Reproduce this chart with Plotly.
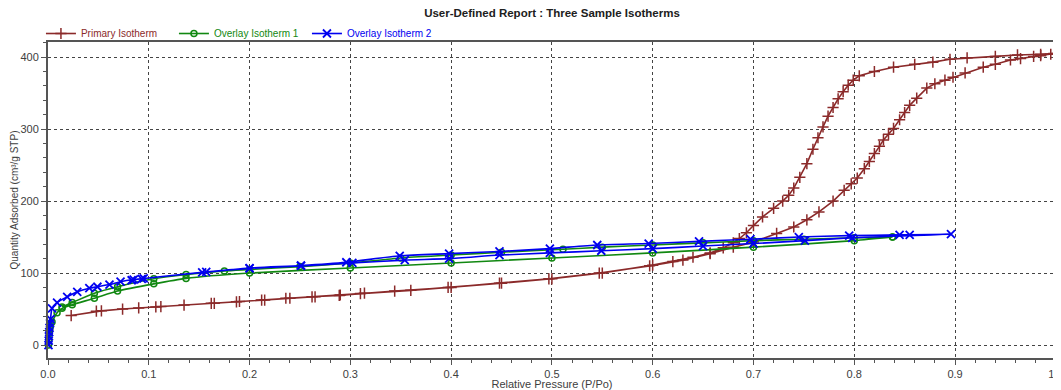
import plotly.graph_objects as go

# ---------------- data ----------------
primary_ads_x = [0.023, 0.048, 0.053, 0.074, 0.090, 0.107, 0.112, 0.135, 0.162, 0.187, 0.212, 0.236, 0.262,
                 0.289, 0.314, 0.344, 0.397, 0.448, 0.497, 0.547, 0.597, 0.630, 0.657, 0.680, 0.700,
                 0.723, 0.740, 0.753, 0.765, 0.779, 0.790, 0.797, 0.803, 0.810, 0.815, 0.820, 0.825,
                 0.829, 0.834, 0.839, 0.845, 0.850, 0.855, 0.862, 0.872, 0.880, 0.890, 0.898, 0.910,
                 0.928, 0.940, 0.955, 0.965, 0.978, 0.985, 0.995]
primary_ads_y = [41, 47, 47.5, 50, 51.5, 53, 53.5, 55.5, 58, 60, 62.5, 65, 67,
                 69, 72, 75, 80, 86, 92, 100, 110, 118, 127, 136, 143,
                 155, 164, 174, 185, 200, 215, 224, 232, 245, 255, 266, 276,
                 285, 293, 301, 313, 323, 333, 343, 357, 363, 368, 372, 378,
                 386, 390, 396, 398, 401, 402, 404]

primary_des_x = [0.998, 0.985, 0.962, 0.940, 0.912, 0.895, 0.878, 0.860, 0.839, 0.820, 0.805, 0.799,
                 0.794, 0.789, 0.784, 0.779, 0.774, 0.769, 0.764, 0.759, 0.753, 0.746, 0.740, 0.735,
                 0.729, 0.720, 0.709, 0.700, 0.693, 0.686, 0.680, 0.670, 0.657, 0.640, 0.620, 0.600,
                 0.550, 0.500, 0.450, 0.400, 0.360, 0.310, 0.290, 0.265, 0.240, 0.215, 0.190, 0.165]
primary_des_y = [405, 404, 403, 401, 399, 397, 393, 390, 386, 380, 374, 368,
                 361, 352, 342, 330, 318, 303, 288, 272, 252, 233, 218, 208,
                 200, 190, 178, 166, 156, 148, 142, 135, 128, 122, 116, 111,
                 100, 92, 86, 80, 76, 71.5, 69.5, 67, 65, 62.5, 60.5, 58]

overlay1_ads_x = [0.0005, 0.0008, 0.0012, 0.0018, 0.0025, 0.004, 0.009, 0.014, 0.024, 0.046, 0.069,
                  0.105, 0.137, 0.200, 0.300, 0.400, 0.500, 0.600, 0.700, 0.800, 0.838]
overlay1_ads_y = [0, 8, 16, 22, 27, 32, 45, 51, 56, 65, 75,
                  85, 92.6, 100, 107, 114, 121, 128, 136, 145, 150]
overlay1_des_x = [0.838, 0.800, 0.750, 0.700, 0.650, 0.600, 0.550, 0.511, 0.450, 0.400, 0.350,
                  0.300, 0.250, 0.200, 0.175, 0.137, 0.105, 0.069, 0.046, 0.024, 0.014]
overlay1_des_y = [150, 149, 147, 145, 142, 139, 136, 133, 129, 125, 121,
                  114, 109, 105, 103, 98, 92, 81, 72, 59, 53]

overlay2_ads_x = [0.0005, 0.0007, 0.0009, 0.0012, 0.0015, 0.002, 0.0025, 0.004, 0.009, 0.019, 0.029,
                  0.041, 0.049, 0.061, 0.072, 0.085, 0.095, 0.153, 0.200, 0.251, 0.302, 0.354,
                  0.398, 0.448, 0.498, 0.549, 0.600, 0.650, 0.700, 0.751, 0.798, 0.896]
overlay2_ads_y = [0, 6, 12, 18, 24, 30, 36, 51, 59, 67, 74,
                  79, 81, 84, 88, 91, 92.5, 101, 106.5, 110, 114, 118,
                  120, 125, 128, 131, 134, 137.5, 141, 145, 149, 154]
overlay2_des_x = [0.855, 0.845, 0.795, 0.745, 0.697, 0.646, 0.596, 0.545, 0.498, 0.448, 0.398,
                  0.349, 0.296, 0.251, 0.200, 0.157, 0.093, 0.083]
overlay2_des_y = [153, 153, 152, 150, 147, 144, 141, 139, 134, 130, 127,
                  124, 115, 110.5, 107, 101.5, 92, 90]

x_tick_values = [0, 0.1, 0.2, 0.3, 0.4, 0.5, 0.6, 0.7, 0.8, 0.9, 1.0]

# ---------------- styles ----------------
RED = "#8B2A2A"
GREEN = "#118811"
BLUE = "#0000F0"
FONT = "Liberation Sans, Arial, sans-serif"

fig = go.Figure()

def add(xa, ya, xd, yd, name, color, symbol, msize, mline, shape, group):
    x = list(xa) + list(xd)
    y = list(ya) + list(yd)
    fig.add_trace(go.Scatter(
        x=x, y=y, mode="lines+markers", name=f"<span style='color:{color}'>{name}</span>",
        line=dict(color=color, width=1.6, shape=shape, smoothing=0.6 if shape == "spline" else None),
        marker=dict(symbol=symbol, size=msize, color=color, line=dict(color=color, width=mline)),
        cliponaxis=False, legendgroup=group,
    ))

add(primary_ads_x, primary_ads_y, primary_des_x, primary_des_y, "Primary Isotherm", RED,
    "cross-thin-open", 8, 1.5, "linear", "p")
add(overlay1_ads_x, overlay1_ads_y, overlay1_des_x, overlay1_des_y, "Overlay Isotherm 1", GREEN,
    "circle-open", 6, 1.5, "spline", "o1")
add(overlay2_ads_x, overlay2_ads_y, overlay2_des_x, overlay2_des_y, "Overlay Isotherm 2", BLUE,
    "x-thin-open", 8, 1.8, "spline", "o2")

grid = dict(showgrid=True, gridcolor="#444444", griddash="dot", gridwidth=1)

# page body adds an 8px margin; figure is sized to fill the rest of the 1061x390 window
fig.update_layout(
    width=1053, height=382,
    margin=dict(l=40, r=5, t=34, b=32, autoexpand=False),
    paper_bgcolor="white", plot_bgcolor="white",
    font=dict(family=FONT, size=11, color="#404040"),
    title=dict(text="<b>User-Defined Report : Three Sample Isotherms</b>", x=0.5166, xanchor="center",
               y=0.987, yanchor="middle", font=dict(size=11.5, color="#202020", family=FONT)),
    legend=dict(orientation="h", x=-0.007, xanchor="left", y=0.981, yanchor="bottom",
                entrywidth=88, entrywidthmode="pixels", itemwidth=30,
                font=dict(size=10, family=FONT), bgcolor="rgba(0,0,0,0)", tracegroupgap=0),
    showlegend=True,
)

fig.update_xaxes(
    range=[0, 1.0002], tickvals=x_tick_values,
    tickformat=".1f", automargin=False, ticklabeloverflow="allow",
    ticks="outside", ticklen=5, tickcolor="#555555",
    minor=dict(dtick=0.02, tick0=0, ticks="outside", ticklen=3, tickcolor="#555555", showgrid=False),
    showline=True, linecolor="#555555", linewidth=1.5, mirror=True,
    zeroline=False, tickfont=dict(size=11, color="#404040"),
    title=dict(text="Relative Pressure (P/Po)", font=dict(size=11, color="#404040"), standoff=0),
    **grid,
)
fig.update_yaxes(
    range=[-18, 421], dtick=100, tick0=0, automargin=False,
    ticks="outside", ticklen=5, tickcolor="#555555",
    minor=dict(dtick=20, ticks="outside", ticklen=3, tickcolor="#555555", showgrid=False),
    showline=True, linecolor="#555555", linewidth=2, mirror=True,
    zeroline=False, tickfont=dict(size=11, color="#404040"),
    title=dict(text="Quantity Adsorbed (cm³/g STP)", font=dict(size=10, color="#404040"), standoff=0),
    **grid,
)

fig.write_html("out.html")
